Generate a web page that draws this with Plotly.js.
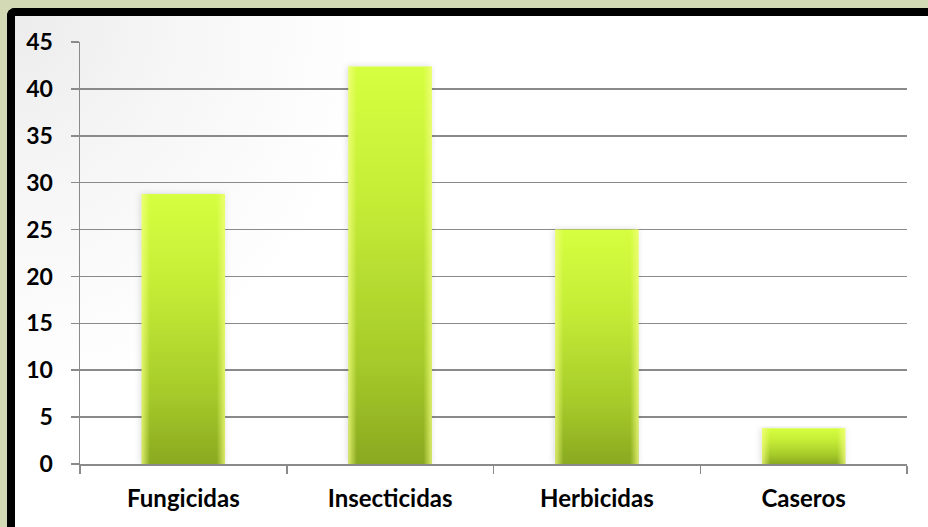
<!DOCTYPE html>
<html>
<head>
<meta charset="utf-8">
<script src="https://cdn.plot.ly/plotly-3.0.1.min.js"></script>
<style>
  html, body { margin:0; padding:0; width:928px; height:527px; overflow:hidden; background:#d2d9b4; }
  #frame { position:absolute; left:7px; top:8px; width:940px; height:540px;
           border-left:8px solid #000; border-top:8px solid #000; border-top-left-radius:8px;
           background: radial-gradient(ellipse 360px 380px at 0 0, #ececec 0%, #f6f6f6 45%, #ffffff 100%); }
  #chart { position:absolute; left:0; top:0; width:928px; height:527px; }
</style>
</head>
<body>
<div id="frame"></div>
<div id="chart"></div>
<script>
const categories = ["Fungicidas", "Insecticidas", "Herbicidas", "Caseros"];
const values = [28.8, 42.4, 25.0, 3.8];
const yTicks = [0, 5, 10, 15, 20, 25, 30, 35, 40, 45];

const gridColor = "#8a8a8a";
const fontFam = "Lato, 'Open Sans', sans-serif";

const trace = {
  type: "bar",
  x: categories,
  y: values,
  marker: { color: "#bce334", line: { width: 0 } },
  hoverinfo: "none"
};

const layout = {
  width: 928, height: 527,
  margin: { l: 80, r: 21, t: 42, b: 63 },
  paper_bgcolor: "rgba(0,0,0,0)",
  plot_bgcolor: "rgba(0,0,0,0)",
  bargap: 0.597,
  showlegend: false,
  xaxis: {
    type: "category",
    showline: true, linecolor: gridColor, linewidth: 1.5,
    ticks: "outside", ticklen: 8, tickcolor: gridColor, tickwidth: 1.5,
    tickson: "boundaries",
    showgrid: false,
    ticklabelstandoff: 13,
    tickfont: { family: fontFam, size: 24, color: "#000", weight: "bold" }
  },
  yaxis: {
    range: [0, 45],
    tickvals: yTicks,
    ticktext: yTicks.map(String),
    showline: true, linecolor: gridColor, linewidth: 1.5,
    ticks: "outside", ticklen: 8, tickcolor: gridColor, tickwidth: 1.5,
    showgrid: true, gridcolor: gridColor, gridwidth: 1.5,
    zeroline: false,
    ticklabelstandoff: 13,
    tickfont: { family: fontFam, size: 23, color: "#000", weight: "bold" }
  }
};

Plotly.newPlot("chart", [trace], layout, { staticPlot: true, displayModeBar: false }).then(function (gd) {
  const svgNS = "http://www.w3.org/2000/svg";
  const svg = gd.querySelector("svg.main-svg");
  let defs = svg.querySelector("defs");
  if (!defs) { defs = document.createElementNS(svgNS, "defs"); svg.insertBefore(defs, svg.firstChild); }
  function grad(id, x2, y2, stops) {
    const g = document.createElementNS(svgNS, "linearGradient");
    g.setAttribute("id", id);
    g.setAttribute("x1", "0"); g.setAttribute("y1", "0");
    g.setAttribute("x2", x2); g.setAttribute("y2", y2);
    stops.forEach(function (s) {
      const st = document.createElementNS(svgNS, "stop");
      st.setAttribute("offset", s[0]);
      st.setAttribute("stop-color", s[1]);
      st.setAttribute("stop-opacity", s[2]);
      g.appendChild(st);
    });
    defs.appendChild(g);
  }
  grad("barV", "0", "1", [["0", "#d6ff40", 1], ["0.35", "#c4ec36", 1], ["0.75", "#a5ca2a", 1], ["1", "#8aa920", 1]]);
  grad("barH", "1", "0", [["0", "#f4ff80", 0.75], ["0.1", "#f4ff80", 0], ["0.9", "#f4ff80", 0], ["1", "#f4ff80", 0.75]]);
  const flt = document.createElementNS(svgNS, "filter");
  flt.setAttribute("id", "barShadow");
  flt.setAttribute("x", "-20%"); flt.setAttribute("y", "-5%");
  flt.setAttribute("width", "140%"); flt.setAttribute("height", "110%");
  flt.innerHTML = '<feDropShadow dx="-1" dy="0" stdDeviation="3" flood-color="#000" flood-opacity="0.15"/>';
  defs.appendChild(flt);
  gd.querySelectorAll(".trace.bars .point path").forEach(function (p) {
    p.style.fill = "url(#barV)";
    p.style.filter = "url(#barShadow)";
    const ov = p.cloneNode(true);
    ov.style.fill = "url(#barH)";
    ov.style.filter = "none";
    p.parentNode.appendChild(ov);
  });
});
</script>
</body>
</html>
